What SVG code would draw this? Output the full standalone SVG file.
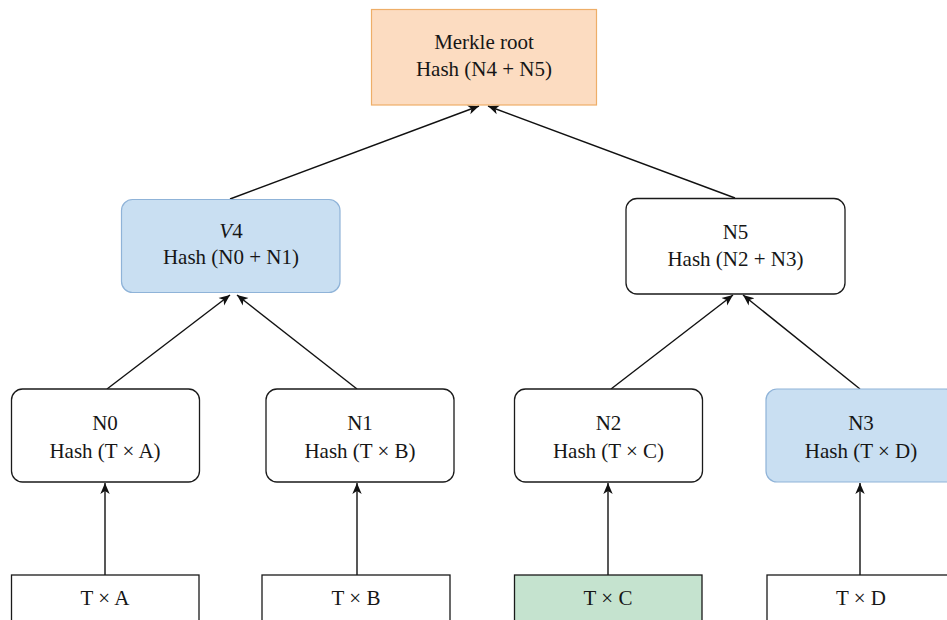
<svg xmlns="http://www.w3.org/2000/svg" width="947" height="620" viewBox="0 0 947 620">
  <style>
    .box { fill: #ffffff; stroke: #1a1a1a; stroke-width: 1.3; }
    .blue { fill: #c9dff2; stroke: #8fb3d8; stroke-width: 1.2; }
    .peach { fill: #fcdcc1; stroke: #eeae68; stroke-width: 1.2; }
    .green { fill: #c5e3cf; stroke: #1a1a1a; stroke-width: 1.3; }
    text { font-family: 'Liberation Serif', 'DejaVu Serif', serif; font-size: 21px; fill: #161616; text-anchor: middle; }
    .edge { stroke: #111111; stroke-width: 1.4; fill: none; marker-end: url(#arrow); }
  </style>
  <defs>
    <marker id="arrow" markerUnits="userSpaceOnUse" markerWidth="13" markerHeight="12" refX="11" refY="6" orient="auto">
      <path d="M0,1.3 L11,6 L0,10.7 L3,6 z" fill="#111111"/>
    </marker>
  </defs>

  <!-- connectors -->
  <g id="connectors">
    <line class="edge" x1="230" y1="199" x2="479" y2="106"/>
    <line class="edge" x1="735" y1="198" x2="488" y2="106"/>
    <line class="edge" x1="107" y1="389" x2="230" y2="295"/>
    <line class="edge" x1="357" y1="389" x2="237" y2="295"/>
    <line class="edge" x1="611" y1="389" x2="733" y2="295"/>
    <line class="edge" x1="860" y1="389" x2="743" y2="295"/>
    <line class="edge" x1="105" y1="575" x2="105" y2="483"/>
    <line class="edge" x1="357" y1="575" x2="357" y2="483"/>
    <line class="edge" x1="608" y1="575" x2="608" y2="483"/>
    <line class="edge" x1="860" y1="575" x2="860" y2="483"/>
  </g>

  <g font-family="Liberation Serif, serif">
    <!-- root -->
    <g id="root">
      <rect class="peach" x="371.5" y="9.5" width="225" height="95.5"/>
      <text x="484" y="49">Merkle root</text>
      <text x="484" y="76">Hash (N4 + N5)</text>
    </g>

    <!-- second level -->
    <g id="v4">
      <rect class="blue" x="121.5" y="199.5" width="218.5" height="93" rx="11"/>
      <text x="231" y="238"><tspan font-style="italic">V</tspan>4</text>
      <text x="231" y="264">Hash (N0 + N1)</text>
    </g>
    <g id="n5">
      <rect class="box" x="626" y="198.5" width="219" height="95.5" rx="11"/>
      <text x="735.5" y="239">N5</text>
      <text x="735.5" y="265.5">Hash (N2 + N3)</text>
    </g>

    <!-- leaf hashes -->
    <g id="n0">
      <rect class="box" x="11.5" y="389" width="188" height="93" rx="11"/>
      <text x="105" y="430">N0</text>
      <text x="105" y="457.5">Hash (T × A)</text>
    </g>
    <g id="n1">
      <rect class="box" x="266" y="389" width="188" height="93" rx="11"/>
      <text x="360" y="430">N1</text>
      <text x="360" y="457.5">Hash (T × B)</text>
    </g>
    <g id="n2">
      <rect class="box" x="514.5" y="389" width="188" height="93" rx="11"/>
      <text x="608.5" y="430">N2</text>
      <text x="608.5" y="457.5">Hash (T × C)</text>
    </g>
    <g id="n3">
      <rect class="blue" x="766" y="389" width="190" height="93" rx="11"/>
      <text x="861" y="430">N3</text>
      <text x="861" y="457.5">Hash (T × D)</text>
    </g>

    <!-- transactions -->
    <g id="tA">
      <rect class="box" x="11.5" y="575" width="187.5" height="60"/>
      <text x="105" y="605">T × A</text>
    </g>
    <g id="tB">
      <rect class="box" x="262" y="575" width="188" height="60"/>
      <text x="356" y="605">T × B</text>
    </g>
    <g id="tC">
      <rect class="green" x="514.5" y="575" width="187.5" height="60"/>
      <text x="608" y="605">T × C</text>
    </g>
    <g id="tD">
      <rect class="box" x="767" y="575" width="190" height="60"/>
      <text x="861" y="605">T × D</text>
    </g>
  </g>
</svg>
